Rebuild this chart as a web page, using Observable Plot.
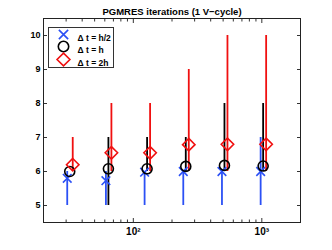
<!DOCTYPE html>
<html>
<head>
<meta charset="utf-8">
<script src="https://cdn.jsdelivr.net/npm/d3@7"></script>
<script src="https://cdn.jsdelivr.net/npm/@observablehq/plot@0.6"></script>
<style>
body { margin: 0; background: #fff; }
#chart svg { font-family: "Liberation Sans", Arial, sans-serif; }
</style>
</head>
<body>
<div id="chart"></div>
<script>
const N = [32, 64, 128, 256, 512, 1024];
// Δt = h/2 (blue)
const blueMid = [5.8, 5.73, 5.98, 6.0, 6.0, 6.0];
const blueMin = [5, 5, 5, 5, 5, 5];
const blueMax = [6, 6, 6, 6, 6, 7];
// Δt = h (black)
const blackMid = [6.0, 6.08, 6.08, 6.15, 6.18, 6.16];
const blackMin = [6, 5, 6, 6, 6, 6];
const blackMax = [6, 7, 7, 7, 8, 8];
// Δt = 2h (red)
const redMid = [6.2, 6.55, 6.55, 6.79, 6.8, 6.8];
const redMin = [6, 6, 6, 6, 6, 6];
const redMax = [7, 8, 8, 9, 10, 10];

const yTicks = [5, 6, 7, 8, 9, 10];
const xMajor = [100, 1000];
const xMinor = [20, 30, 40, 50, 60, 70, 80, 90, 200, 300, 400, 500, 600, 700, 800, 900, 2000];
const title = "PGMRES iterations (1 V\u2212cycle)";
const legendLabels = ["\u0394 t = h/2", "\u0394 t = h", "\u0394 t = 2h"];

const BLUE = "#2b50f5", BLACK = "#000", RED = "#f01010";

const rows = (mid, lo, hi) => N.map((n, i) => ({n, mid: mid[i], lo: lo[i], hi: hi[i]}));
const blue = rows(blueMid, blueMin, blueMax);
const black = rows(blackMid, blackMin, blackMax);
const red = rows(redMid, redMin, redMax);

const sup = {"2": "\u00b2", "3": "\u00b3"};
const fmtX = d => "10" + sup[String(Math.round(Math.log10(d)))];

const legendSym = [
  {sym: "times", stroke: BLUE, r: 4.3},
  {sym: "circle", stroke: BLACK, r: 5.2},
  {sym: "diamond2", stroke: RED, r: 5.8}
];
const legendDy = [16, 28, 41];

const chart = Plot.plot({
  width: 332,
  height: 250,
  marginLeft: 43,
  marginRight: 32,
  marginTop: 18,
  marginBottom: 28,
  style: {fontFamily: "Liberation Sans, Arial, sans-serif", background: "#fff"},
  x: {type: "log", domain: [20, 2000]},
  y: {domain: [4.5, 10.5]},
  marks: [
    // axes
    Plot.axisY(yTicks, {tickSize: 0, tickPadding: 3, fontSize: 9, fontWeight: "bold", fill: "#000", label: null}),
    Plot.axisY(yTicks, {anchor: "left", tickSize: -4, tickFormat: () => "", stroke: "#333", label: null}),
    Plot.axisY(yTicks, {anchor: "right", tickSize: -4, tickFormat: () => "", stroke: "#333", label: null}),
    Plot.axisX(xMajor, {tickSize: 0, tickPadding: 5, tickFormat: fmtX, fontSize: 10, fontWeight: "bold", fill: "#000", label: null}),
    Plot.axisX(xMajor, {anchor: "bottom", tickSize: -4, tickFormat: () => "", stroke: "#333", label: null}),
    Plot.axisX(xMajor, {anchor: "top", tickSize: -4, tickFormat: () => "", stroke: "#333", label: null}),
    Plot.axisX(xMinor, {anchor: "bottom", tickSize: -2.5, tickFormat: () => "", stroke: "#333", label: null}),
    Plot.axisX(xMinor, {anchor: "top", tickSize: -2.5, tickFormat: () => "", stroke: "#333", label: null}),
    // range lines
    Plot.ruleX(blue, {x: "n", y1: "lo", y2: "hi", stroke: BLUE, strokeWidth: 1.8, dx: -2.5}),
    Plot.ruleX(black, {x: "n", y1: "lo", y2: "hi", stroke: BLACK, strokeWidth: 1.8}),
    Plot.ruleX(red, {x: "n", y1: "lo", y2: "hi", stroke: RED, strokeWidth: 1.8, dx: 3}),
    // markers
    Plot.dot(blue, {x: "n", y: "mid", symbol: "times", r: 4, stroke: BLUE, strokeWidth: 1.6, dx: -2.5}),
    Plot.dot(black, {x: "n", y: "mid", symbol: "circle", r: 5, stroke: BLACK, strokeWidth: 1.6}),
    Plot.dot(red, {x: "n", y: "mid", symbol: "diamond2", r: 5.6, stroke: RED, strokeWidth: 1.6, dx: 3}),
    // frame
    Plot.frame({stroke: "#222", strokeWidth: 1}),
    // legend
    Plot.frame({insetLeft: 5, insetTop: 9, insetRight: 187, insetBottom: 155, fill: "#fff", stroke: "#333", strokeWidth: 1}),
    ...legendLabels.map((lab, i) => Plot.dot([lab], {frameAnchor: "top-left", dx: 20, dy: legendDy[i], symbol: legendSym[i].sym, r: legendSym[i].r, stroke: legendSym[i].stroke, strokeWidth: 1.6})),
    ...legendLabels.map((lab, i) => Plot.text([lab], {frameAnchor: "top-left", dx: 34, dy: legendDy[i], text: d => d, textAnchor: "start", fontSize: 8.5, fontWeight: "bold", fill: "#000"})),
    // title
    Plot.text([title], {frameAnchor: "top", dy: -10, text: d => d, fontSize: 9.5, fontWeight: "bold", fill: "#000"})
  ]
});
document.getElementById("chart").appendChild(chart);
</script>
</body>
</html>
